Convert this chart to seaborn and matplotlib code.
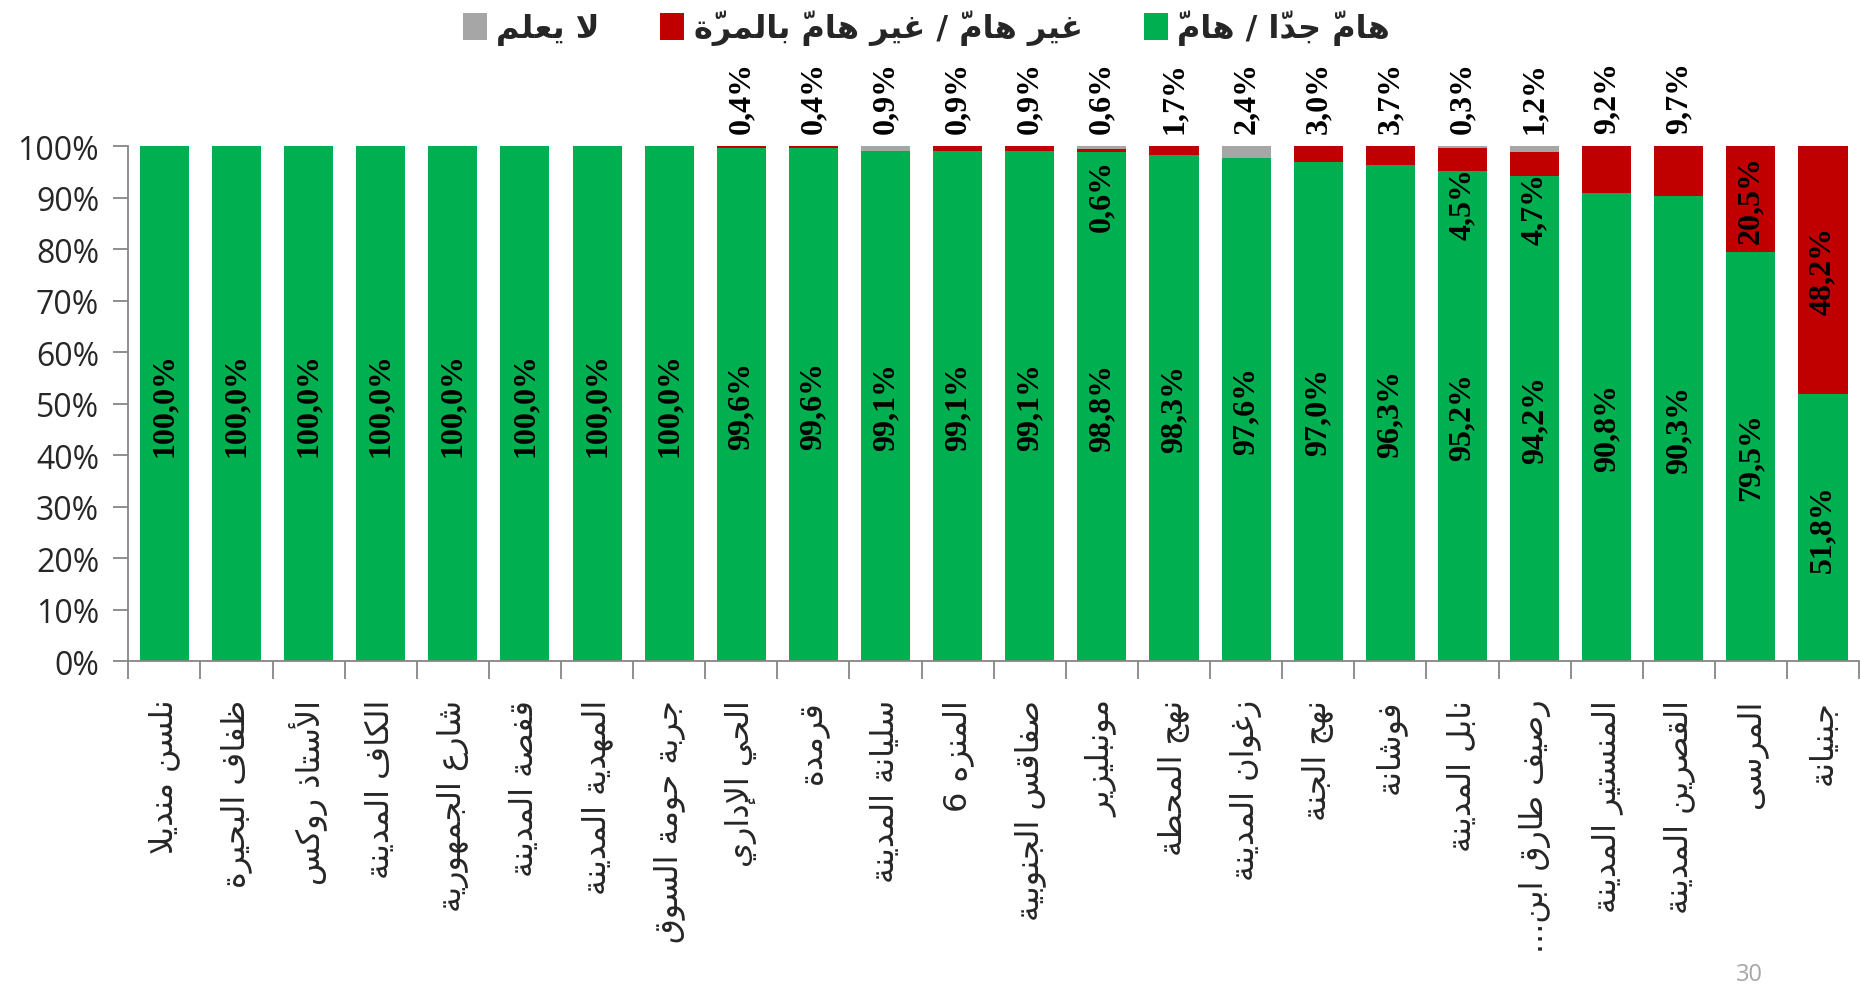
import numpy as np
import pandas as pd
import matplotlib
matplotlib.use("Agg")
import matplotlib.pyplot as plt
import seaborn as sns
from matplotlib.patches import Patch
from matplotlib.font_manager import FontProperties

# ==========================================
# DATA
# ==========================================
regions = ["نلسن منديلا", "ظفاف البحيرة", "الأستاذ روكس", "الكاف المدينة",
           "شارع الجمهورية", "قفصة المدينة", "المهدية المدينة", "جربة حومة السوق",
           "الحي الإداري", "قرمدة", "سليانة المدينة", "المنزه 6",
           "صفاقس الجنوبية", "مونبليزير", "نهج المحطة", "زغوان المدينة",
           "نهج الجنة", "فوشانة", "نابل المدينة", "رصيف طارق ابن...",
           "المنستير المدينة", "القصرين المدينة", "المرسى", "جبنيانة"]

important = [100.0, 100.0, 100.0, 100.0, 100.0, 100.0, 100.0, 100.0,
             99.6, 99.6, 99.1, 99.1, 99.1, 98.8, 98.3, 97.6,
             97.0, 96.3, 95.2, 94.2, 90.8, 90.3, 79.5, 51.8]
not_important = [0.0, 0.0, 0.0, 0.0, 0.0, 0.0, 0.0, 0.0,
                 0.4, 0.4, 0.0, 0.9, 0.9, 0.6, 1.7, 0.0,
                 3.0, 3.7, 4.5, 4.7, 9.2, 9.7, 20.5, 48.2]
dont_know = [0.0, 0.0, 0.0, 0.0, 0.0, 0.0, 0.0, 0.0,
             0.0, 0.0, 0.9, 0.0, 0.0, 0.6, 0.0, 2.4,
             0.0, 0.0, 0.3, 1.2, 0.0, 0.0, 0.0, 0.0]

legend_labels = ["هامّ جدّا / هامّ", "غير هامّ / غير هامّ بالمرّة", "لا يعلم"]
page_number = "30"

GREEN = "#00B050"
RED = "#C00000"
GRAY = "#A6A6A6"
AXIS_GRAY = "#868686"

# ==========================================
# SIMPLE ARABIC SHAPING (matplotlib has no RTL layout)
# ==========================================
DUAL = {'ب': 0xFE8F, 'ت': 0xFE95, 'ث': 0xFE99, 'ج': 0xFE9D, 'ح': 0xFEA1,
        'خ': 0xFEA5, 'س': 0xFEB1, 'ش': 0xFEB5, 'ص': 0xFEB9, 'ض': 0xFEBD,
        'ط': 0xFEC1, 'ظ': 0xFEC5, 'ع': 0xFEC9, 'غ': 0xFECD, 'ف': 0xFED1,
        'ق': 0xFED5, 'ك': 0xFED9, 'ل': 0xFEDD, 'م': 0xFEE1, 'ن': 0xFEE5,
        'ه': 0xFEE9, 'ي': 0xFEF1}
RIGHT = {'ا': 0xFE8D, 'أ': 0xFE83, 'إ': 0xFE87, 'آ': 0xFE81, 'ة': 0xFE93,
         'د': 0xFEA9, 'ذ': 0xFEAB, 'ر': 0xFEAD, 'ز': 0xFEAF, 'و': 0xFEED,
         'ى': 0xFEEF, 'ؤ': 0xFE85}
LAM_ALEF = {'آ': 0xFEF5, 'أ': 0xFEF7, 'إ': 0xFEF9, 'ا': 0xFEFB}


def shape(text):
    clusters = []
    for ch in text:
        if 0x064B <= ord(ch) <= 0x065F and clusters:
            clusters[-1][1] += ch
        else:
            clusters.append([ch, ''])
    merged = []
    i = 0
    while i < len(clusters):
        b, m = clusters[i]
        if b == 'ل' and i + 1 < len(clusters) and clusters[i + 1][0] in LAM_ALEF:
            merged.append(['ل' + clusters[i + 1][0], m + clusters[i + 1][1]])
            i += 2
        else:
            merged.append([b, m])
            i += 1

    def kind(b):
        if len(b) == 2:
            return 'R'
        if b in DUAL:
            return 'D'
        if b in RIGHT:
            return 'R'
        return None

    out = []
    for i, (b, m) in enumerate(merged):
        k = kind(b)
        pk = kind(merged[i - 1][0]) if i > 0 else None
        nk = kind(merged[i + 1][0]) if i + 1 < len(merged) else None
        jp = k is not None and pk == 'D'
        jn = k == 'D' and nk is not None
        if len(b) == 2:
            g = chr(LAM_ALEF[b[1]] + (1 if jp else 0))
        elif k == 'D':
            g = chr(DUAL[b] + (3 if (jp and jn) else 1 if jp else 2 if jn else 0))
        elif k == 'R':
            g = chr(RIGHT[b] + (1 if jp else 0))
        else:
            g = b
        # mark first: matplotlib draws it over the glyph that follows
        out.append(m + g)
    return ''.join(reversed(out))


def pct(v):
    return f"{v:.1f}%".replace('.', ',')


# ==========================================
# PLOT
# ==========================================
sns.set_style("white")
plt.rcParams['font.family'] = ['Open Sans', 'DejaVu Sans']

df = pd.DataFrame({
    'region': [shape(r) for r in regions],
    'important': important,
    'not_important': not_important,
    'dont_know': dont_know,
})
df['base_gray'] = df['important'] + df['not_important']

fig, ax = plt.subplots(figsize=(18.6, 9.87), dpi=100)
fig.subplots_adjust(left=0.069, right=0.9995, bottom=0.329, top=0.851)

sns.barplot(data=df, x='region', y='important', color=GREEN, saturation=1,
            width=0.68, linewidth=0, ax=ax)
sns.barplot(data=df, x='region', y='not_important', color=RED, saturation=1,
            width=0.68, linewidth=0, bottom=df['important'].values, ax=ax)
sns.barplot(data=df, x='region', y='dont_know', color=GRAY, saturation=1,
            width=0.68, linewidth=0, bottom=df['base_gray'].values, ax=ax)

ax.set_xlim(-0.5, len(regions) - 0.5)
ax.set_ylim(0, 100)
ax.set_yticks(np.arange(0, 101, 10))
ax.set_yticklabels([f"{t}%" for t in range(0, 101, 10)], fontsize=23)
ax.set_xlabel('')
ax.set_ylabel('')

# spines and ticks
for s in ['top', 'right']:
    ax.spines[s].set_visible(False)
for s in ['left', 'bottom']:
    ax.spines[s].set_color(AXIS_GRAY)
    ax.spines[s].set_linewidth(1.3)
ax.tick_params(axis='y', which='major', direction='out', length=11, width=1.3,
               color=AXIS_GRAY, pad=10, left=True)
ax.set_xticks(np.arange(-0.5, len(regions), 1.0), minor=True)
ax.tick_params(axis='x', which='minor', direction='out', length=13, width=1.3,
               color=AXIS_GRAY, bottom=True)
ax.tick_params(axis='x', which='major', length=0, pad=27)
for lab in ax.get_xticklabels():
    lab.set_rotation(90)
    lab.set_fontfamily('DejaVu Sans')
    lab.set_fontsize(23)
    lab.set_va('top')
    lab.set_ha('center')

# data labels
lbl_font = dict(family='Liberation Serif', fontweight='bold', fontsize=23,
                color='black', rotation=90, ha='center')
for i, (g, r, k) in enumerate(zip(important, not_important, dont_know)):
    ax.text(i, g / 2, pct(g), va='center', **lbl_font)
    if k > 0:
        ax.text(i, 102.5, pct(k), va='bottom', clip_on=False, **lbl_font)
        if r > 0:
            ax.text(i, g + r / 2 - 1.5, pct(r), va='top', **lbl_font)
    elif r >= 15:
        ax.text(i, g + r / 2, pct(r), va='center', **lbl_font)
    elif r > 0:
        ax.text(i, 102.5, pct(r), va='bottom', clip_on=False, **lbl_font)

# legend (right-to-left order, square before each text)
handles = [Patch(facecolor=GRAY, edgecolor='none'),
           Patch(facecolor=RED, edgecolor='none'),
           Patch(facecolor=GREEN, edgecolor='none')]
labels = [shape(legend_labels[2]), shape(legend_labels[1]), shape(legend_labels[0])]
fig.legend(handles, labels, ncol=3, loc='upper center', bbox_to_anchor=(0.498, 1.018),
           frameon=False, markerfirst=True,
           prop=FontProperties(family='DejaVu Sans', weight='bold', size=23),
           handlelength=0.75, handleheight=0.9, handletextpad=0.3, columnspacing=1.9)

fig.text(1749 / 1860, 1 - 975 / 987, page_number, color='#A6A6A6', fontsize=17,
         ha='center', va='center')

fig.savefig('out.png', dpi=100)
